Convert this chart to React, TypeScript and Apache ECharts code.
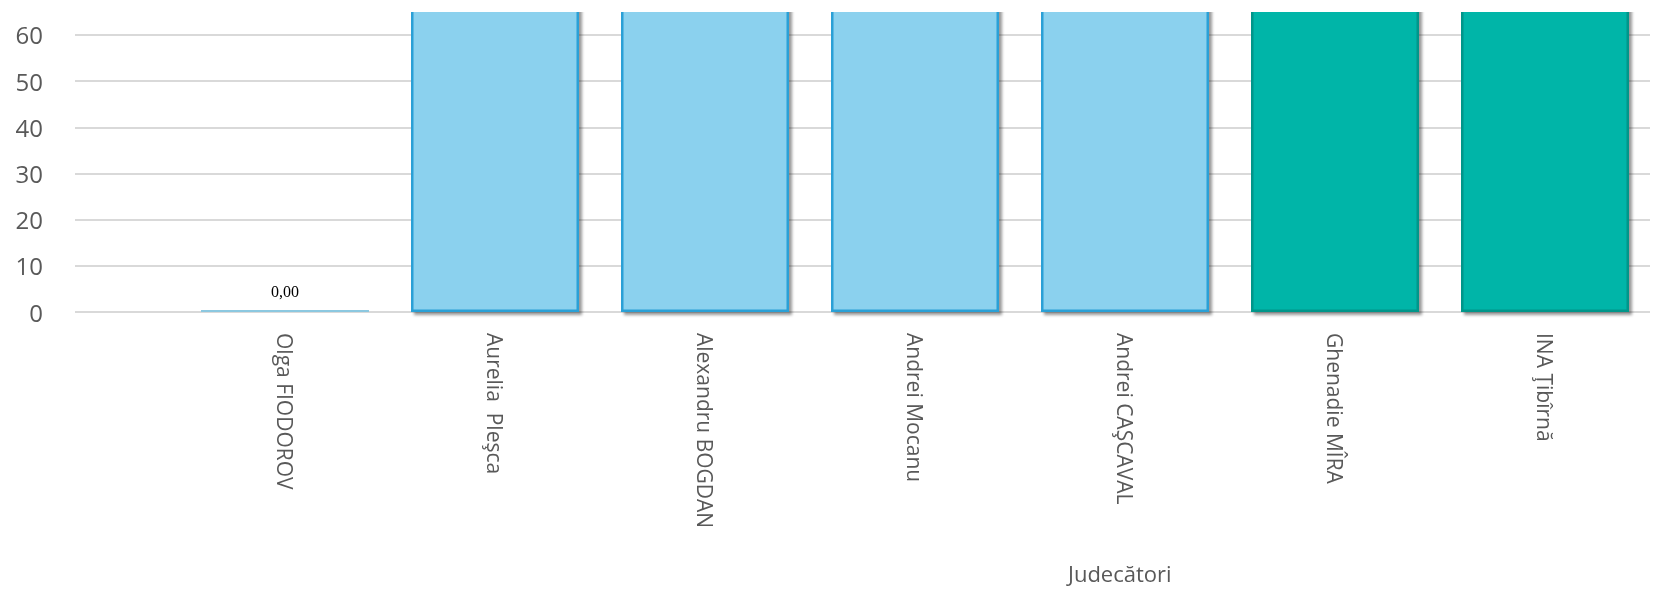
import React, { useEffect, useRef } from "react";
import * as echarts from "echarts";

const categories = [
  "Olga FIODOROV",
  "Aurelia  Pleşca",
  "Alexandru BOGDAN",
  "Andrei Mocanu",
  "Andrei CAŞCAVAL",
  "Ghenadie MÎRA",
  "INA Ţibîrnă",
];
// values of bars 2-7 exceed the visible axis range (clipped in the reference)
const values = [0, 100, 100, 100, 100, 100, 100];
const yTicks = [0, 10, 20, 30, 40, 50, 60];
const yMax = 69.3;
const xAxisName = "Judecători";

export default function App() {
  const ref = useRef<HTMLDivElement>(null);
  useEffect(() => {
    if (!ref.current) return;
    const chart = echarts.init(ref.current, null, { renderer: "svg" });
    const blue = "#8bd1ee";
    const blueBorder = "#2aa0d6";
    const teal = "#00b5a8";
    const tealBorder = "#00968a";
    const data = categories.map((c, i) => {
      const v = [i, values[i]];
      if (values[i] === 0) {
        return { value: v, itemStyle: { color: "#8cc8e0", borderWidth: 0, shadowBlur: 0, shadowOffsetX: 0, shadowOffsetY: 0 } };
      }
      if (i >= 5) {
        return { value: v, itemStyle: { color: teal, borderColor: tealBorder } };
      }
      return { value: v, itemStyle: { color: blue, borderColor: blueBorder } };
    });
    chart.setOption({
      animation: false,
      grid: { left: 75, right: 4, top: 0, bottom: 279, containLabel: false },
      xAxis: {
        type: "value",
        min: -1,
        max: categories.length - 0.5,
        interval: 1,
        axisLine: { show: false },
        axisTick: { show: false },
        splitLine: { show: false },
        axisLabel: {
          rotate: -90,
          margin: 21,
          fontSize: 21,
          color: "#595959",
          fontFamily: "Open Sans",
          showMaxLabel: false,
          formatter: (v: number) =>
            Number.isInteger(v) && v >= 0 && v < categories.length ? categories[v] : "",
        },
      },
      yAxis: {
        type: "value",
        min: 0,
        max: yMax,
        interval: 10,
        axisLine: { show: false },
        axisTick: { show: false },
        splitLine: { show: true, lineStyle: { color: "#d9d9d9", width: 2 } },
        axisLabel: {
          fontSize: 24,
          color: "#595959",
          fontFamily: "Open Sans",
          margin: 32,
          formatter: (v: number) => (yTicks.includes(v) ? String(v) : ""),
        },
      },
      series: [
        {
          type: "bar",
          data,
          barWidth: 168,
          barMinHeight: 2,
          clip: true,
          itemStyle: {
            borderWidth: 2.5,
            shadowColor: "rgba(0,0,0,0.4)",
            shadowBlur: 3,
            shadowOffsetX: 3,
            shadowOffsetY: 3,
          },
          label: {
            show: true,
            position: "top",
            distance: 11,
            color: "#000",
            fontFamily: "Liberation Serif",
            fontSize: 16,
            formatter: (p: any) =>
              p.value[1] <= yMax ? p.value[1].toFixed(2).replace(".", ",") : "",
          },
        },
      ],
      graphic: [
        {
          type: "text",
          left: 1068,
          top: 570,
          style: {
            text: xAxisName,
            fontSize: 22,
            fill: "#595959",
            fontFamily: "Open Sans",
          },
        },
      ],
    });
    return () => chart.dispose();
  }, []);
  return (
    <div
      style={{ position: "fixed", left: 0, top: 12, width: 1654, height: 579, overflow: "hidden" }}
    >
      <div
        ref={ref}
        style={{ position: "absolute", left: 0, top: -20, width: 1654, height: 599 }}
      />
    </div>
  );
}
